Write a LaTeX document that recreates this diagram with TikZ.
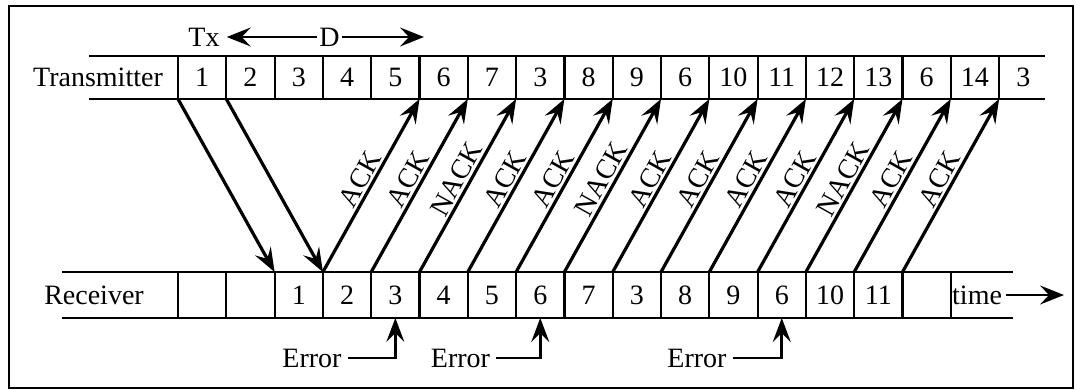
\documentclass[tikz,border=0pt]{standalone}
\usepackage{fontspec}
\setmainfont{Liberation Serif}
\usetikzlibrary{arrows.meta}

\tikzset{
  txt/.style={font=\fontsize{28}{30}\selectfont, inner sep=2pt},
  cell/.style={txt, draw, line width=2.2pt, minimum width=48.3pt, outer sep=0pt, inner sep=0pt},
  opencell/.style={txt, minimum width=48.3pt, outer sep=0pt, inner sep=0pt},
  rowline/.style={line width=2.8pt},
  arr/.style={line width=3.2pt, -{Stealth[length=24pt, width=18pt, inset=9pt]}},
  thinarr/.style={line width=2pt, -{Stealth[length=24pt, width=19pt, inset=9pt]}},
  errarr/.style={line width=2.6pt, -{Stealth[length=24pt, width=18pt, inset=9pt]}},
  acklabel/.style={txt, sloped, above, pos=0.5, inner sep=2pt},
  frame/.style={line width=2pt}
}

\begin{document}
\begin{tikzpicture}[x=1pt, y=-1pt]
\useasboundingbox (0,0) rectangle (1075,390);
\draw[frame] (8.5,5.7) rectangle (1073,388);

% transmitter row
\draw[rowline] (89,56) -- (1045,56);
\draw[rowline] (89,99) -- (1045,99);
\node[txt] (tlabel) at (98,77.5) {Transmitter};
\foreach \lab [count=\i from 0] in {1,2,3,4,5,6,7,3,8,9,6,10,11,12,13,6,14}
  \node[cell, minimum height=43pt] (t\i) at ({178+48.3*\i+24.15},77.5) {\lab};
\node[opencell, minimum height=43pt] (t17) at ({178+48.3*17+24.15},77.5) {3};

% receiver row
\draw[rowline] (62,272) -- (1013,272);
\draw[rowline] (62,318) -- (1013,318);
\node[txt] (rlabel) at (94,295) {Receiver};
\foreach \lab [count=\i from 0] in {{},{},1,2,3,4,5,6,7,3,8,9,6,10,11,{}}
  \node[cell, minimum height=46pt] (r\i) at ({178+48.3*\i+24.15},295) {\lab};
\node[txt, anchor=west, inner sep=1pt] (rtime) at (951,295) {time};
\coordinate (tend) at (1064,295);
\draw[thinarr] (rtime.east) ++(3,0) -- (tend);

% window size marker
\node[txt] (tx) at (204,37) {Tx};
\node[txt] (dd) at (329.5,37) {D};
\coordinate (dend) at (424,37);
\draw[thinarr, shorten >=5pt] (dd.west) -- (tx.east);
\draw[thinarr] (dd.east) -- (dend);

% data frames
\draw[arr] (t0.south west) -- (r2.north west);
\draw[arr] (t1.south west) -- (r3.north west);

% acknowledgements
\foreach \k/\lab in {3/ACK,4/ACK,5/NACK,6/ACK,7/ACK,8/NACK,9/ACK,10/ACK,11/ACK,12/ACK,13/NACK,14/ACK,15/ACK} {
  \pgfmathtruncatemacro\j{\k+2}
  \draw[arr] (r\k.north west) -- node[acklabel] {\lab} (t\j.south west);
}

% errors
\node[txt] (e1) at (312,358) {Error};
\node[txt] (e2) at (460.5,358) {Error};
\node[txt] (e3) at (697,358) {Error};
\draw[errarr, shorten <=4pt] (e1.east) -| (r4.south);
\draw[errarr, shorten <=4pt] (e2.east) -| (r7.south);
\draw[errarr, shorten <=4pt] (e3.east) -| (r12.south);
\end{tikzpicture}
\end{document}
